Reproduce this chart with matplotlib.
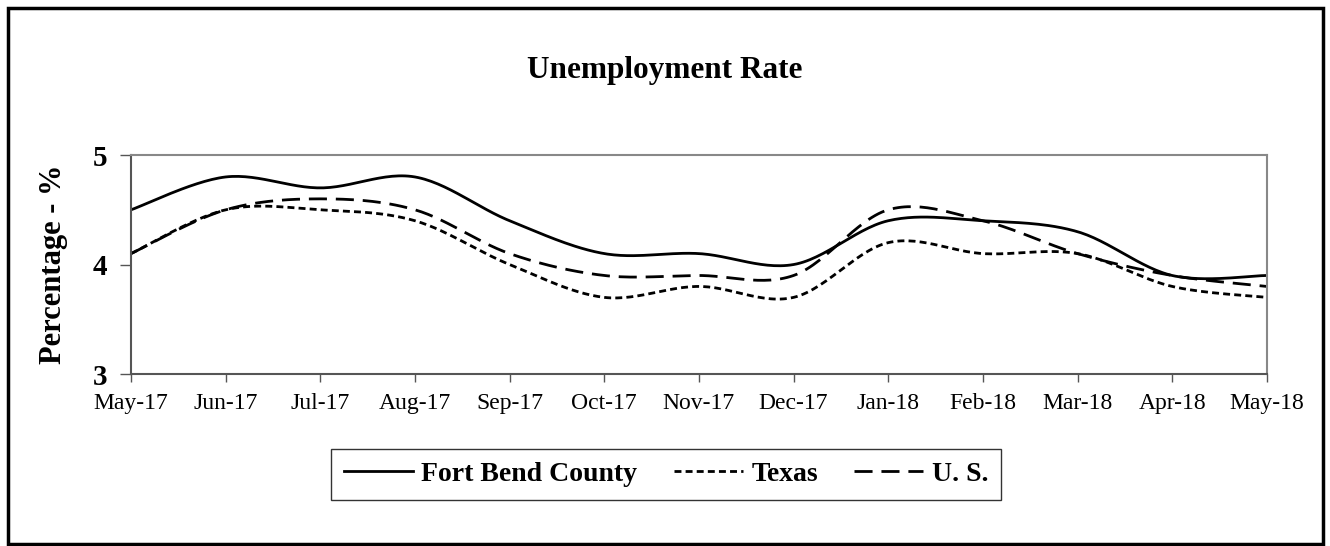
import numpy as np
import matplotlib
matplotlib.use('Agg')
from matplotlib import pyplot as plt
from matplotlib.patches import Rectangle

months = ['May-17', 'Jun-17', 'Jul-17', 'Aug-17', 'Sep-17', 'Oct-17', 'Nov-17',
          'Dec-17', 'Jan-18', 'Feb-18', 'Mar-18', 'Apr-18', 'May-18']
fort_bend = [4.5, 4.8, 4.7, 4.8, 4.4, 4.1, 4.1, 4.0, 4.4, 4.4, 4.3, 3.9, 3.9]
texas = [4.1, 4.5, 4.5, 4.4, 4.0, 3.7, 3.8, 3.7, 4.2, 4.1, 4.1, 3.8, 3.7]
us = [4.1, 4.5, 4.6, 4.5, 4.1, 3.9, 3.9, 3.9, 4.5, 4.4, 4.1, 3.9, 3.8]

plt.rcParams['font.family'] = ['Liberation Serif', 'DejaVu Serif']


def smoothCurve(x, y, steps=30):
    # excel-like smoothing: catmull-rom turned into cubic bezier pieces
    x = np.array(x, dtype=float)
    y = np.array(y, dtype=float)
    n = len(x)
    xs = []
    ys = []
    for i in range(n - 1):
        p0 = np.array([x[max(i - 1, 0)], y[max(i - 1, 0)]])
        p1 = np.array([x[i], y[i]])
        p2 = np.array([x[i + 1], y[i + 1]])
        p3 = np.array([x[min(i + 2, n - 1)], y[min(i + 2, n - 1)]])
        c1 = p1 + (p2 - p0) / 6
        c2 = p2 - (p3 - p1) / 6
        t = np.linspace(0, 1, steps)[:, None]
        pts = ((1 - t) ** 3) * p1 + 3 * ((1 - t) ** 2) * t * c1 + 3 * (1 - t) * t ** 2 * c2 + t ** 3 * p2
        xs.extend(pts[:, 0])
        ys.extend(pts[:, 1])
    return xs, ys


fig = plt.figure(figsize=(13.3, 5.46), dpi=100)
ax = fig.add_axes([0.0985, 0.315, 0.854, 0.401])

xpos = np.arange(len(months))
sx, sy = smoothCurve(xpos, fort_bend)
ax.plot(sx, sy, color='black', lw=2.0, label='Fort Bend County')
sx, sy = smoothCurve(xpos, texas)
ax.plot(sx, sy, color='black', lw=2.0, linestyle=(0, (2.5, 1.5)), label='Texas')
sx, sy = smoothCurve(xpos, us)
ax.plot(sx, sy, color='black', lw=2.0, linestyle=(0, (6.5, 3.2)), label='U. S.')

ax.set_xlim(0, len(months) - 1)
ax.set_ylim(3, 5)
ax.set_yticks([3, 4, 5])
ax.set_xticks(xpos)
ax.set_xticklabels(months, fontsize=17)
for lab in ax.get_yticklabels():
    lab.set_fontweight('bold')
    lab.set_fontsize(21)
ax.tick_params(axis='y', length=8, width=1, color='#555555', pad=9)
ax.tick_params(axis='x', length=6, width=1, color='#555555', pad=8)
for side in ['top', 'right']:
    ax.spines[side].set_color('#888888')
    ax.spines[side].set_linewidth(1.5)
for side in ['left', 'bottom']:
    ax.spines[side].set_color('#555555')
    ax.spines[side].set_linewidth(1.5)

ax.set_ylabel('Percentage - %', fontsize=22, fontweight='bold', labelpad=18)
fig.text(0.5, 0.87, 'Unemployment Rate', ha='center', va='center',
         fontsize=22.5, fontweight='bold')

leg = ax.legend(loc='upper center', bbox_to_anchor=(0.471, -0.28), ncol=3,
                frameon=True, fancybox=False, edgecolor='black',
                prop={'weight': 'bold', 'size': 20}, handlelength=2.5,
                handletextpad=0.3, columnspacing=1.3, borderpad=0.45)
leg.get_frame().set_linewidth(1.0)

# outer chart border
fig.patches.append(Rectangle((0.006, 0.003), 0.989, 0.983, transform=fig.transFigure,
                             fill=False, edgecolor='black', linewidth=2.5))

fig.savefig('out.png', dpi=100)
